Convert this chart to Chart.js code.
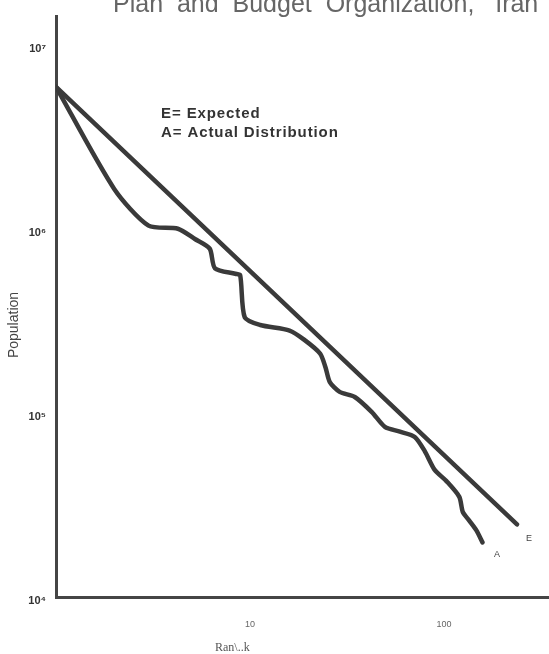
<!DOCTYPE html>
<html>
<head>
<meta charset="utf-8">
<script src="https://cdn.jsdelivr.net/npm/chart.js@4/dist/chart.umd.min.js"></script>
<style>
  html, body { margin: 0; padding: 0; background: #fff; }
  #wrap { width: 549px; height: 654px; position: relative; }
</style>
</head>
<body>
<div id="wrap"><canvas id="rankChart"></canvas></div>
<script>
/* ── Data ── */
const RANKS_ACTUAL = [1, 2, 3, 4.25, 5.2, 6.2, 6.6, 8.4, 8.9, 9.4, 11.3, 16, 19, 23, 24.5, 25.8, 29, 34.7, 42.5, 49.6, 59.3, 70.7, 79.6, 89.6, 103, 120, 125, 135, 147, 158];
const POP_ACTUAL   = [5.9e6, 1.64e6, 1.04e6, 1.0e6, 8.8e5, 7.8e5, 6.1e5, 5.7e5, 5.6e5, 3.3e5, 3.0e5, 2.8e5, 2.5e5, 2.1e5, 1.77e5, 1.47e5, 1.3e5, 1.22e5, 1.01e5, 8.4e4, 7.9e4, 7.4e4, 6.2e4, 4.9e4, 4.26e4, 3.5e4, 2.9e4, 2.6e4, 2.3e4, 1.98e4];
const RANKS_EXPECTED = [1, 238];
const POP_EXPECTED   = [5.9e6, 24800];
const X_TICKS = [10, 100];
const Y_TICKS = [1e4, 1e5, 1e6, 1e7];
const Y_TICK_LABELS = ['10\u2074', '10\u2075', '10\u2076', '10\u2077'];

const INK   = '#3a3a3a';
const AXIS  = '#454545';
const SANS  = "'Liberation Sans', Arial, sans-serif";

const toPoints = (xs, ys) => xs.map((x, i) => ({ x, y: ys[i] }));

/* ── Free text (title, legend, axis names, line tags) ── */
const textPlugin = {
  id: 'texts',
  afterDraw(chart) {
    const c = chart.ctx;
    c.save();
    c.textBaseline = 'alphabetic';
    c.textAlign = 'left';

    c.fillStyle = '#666';
    c.font = `25px ${SANS}`;
    c.fillText('Plan  and  Budget  Organization,   Iran', 113, 12);

    c.fillStyle = '#333';
    c.font = `bold 15px ${SANS}`;
    c.letterSpacing = '0.9px';
    c.fillText('E= Expected', 161, 118);
    c.fillText('A= Actual Distribution', 161, 137);
    c.letterSpacing = '0px';

    c.font = `9px ${SANS}`;
    c.fillStyle = '#444';
    c.fillText('E', 526, 541);
    c.fillText('A', 494, 557);

    c.fillStyle = '#555';
    c.font = `12px 'Liberation Serif', serif`;
    c.fillText('Ran\\..k', 215, 651);

    c.translate(18, 325);
    c.rotate(-Math.PI / 2);
    c.textAlign = 'center';
    c.fillStyle = '#444';
    c.font = `14px ${SANS}`;
    c.fillText('Population', 0, 0);
    c.restore();
  }
};

new Chart(document.getElementById('rankChart'), {
  type: 'line',
  data: {
    datasets: [
      {
        label: 'Expected',
        data: toPoints(RANKS_EXPECTED, POP_EXPECTED),
        borderColor: INK,
        borderWidth: 4.5,
        pointRadius: 0,
        borderCapStyle: 'round'
      },
      {
        label: 'Actual',
        data: toPoints(RANKS_ACTUAL, POP_ACTUAL),
        borderColor: INK,
        borderWidth: 4.5,
        pointRadius: 0,
        tension: 0.25,
        borderCapStyle: 'round',
        borderJoinStyle: 'round'
      }
    ]
  },
  options: {
    responsive: true,
    maintainAspectRatio: false,
    animation: false,
    layout: { padding: 0 },
    plugins: {
      legend: { display: false },
      tooltip: { enabled: false }
    },
    scales: {
      x: {
        type: 'logarithmic',
        min: 1,
        max: 348,
        grid: { display: false, drawTicks: false },
        border: { color: AXIS, width: 3 },
        afterBuildTicks: s => { s.ticks = X_TICKS.map(v => ({ value: v })); },
        afterFit: s => { s.height = 57; },
        ticks: {
          color: '#666',
          padding: 22,
          font: { family: SANS, size: 9 },
          callback: v => String(v)
        }
      },
      y: {
        type: 'logarithmic',
        min: 1e4,
        max: 1.42e7,
        grid: { display: false, drawTicks: false },
        border: { color: AXIS, width: 3 },
        afterBuildTicks: s => { s.ticks = Y_TICKS.map(v => ({ value: v })); },
        afterFit: s => { s.width = 56; },
        ticks: {
          color: '#333',
          padding: 10,
          labelOffset: 4,
          font: { family: SANS, size: 11, weight: 'bold' },
          callback: v => Y_TICK_LABELS[Y_TICKS.indexOf(v)]
        }
      }
    }
  },
  plugins: [textPlugin]
});
</script>
</body>
</html>
